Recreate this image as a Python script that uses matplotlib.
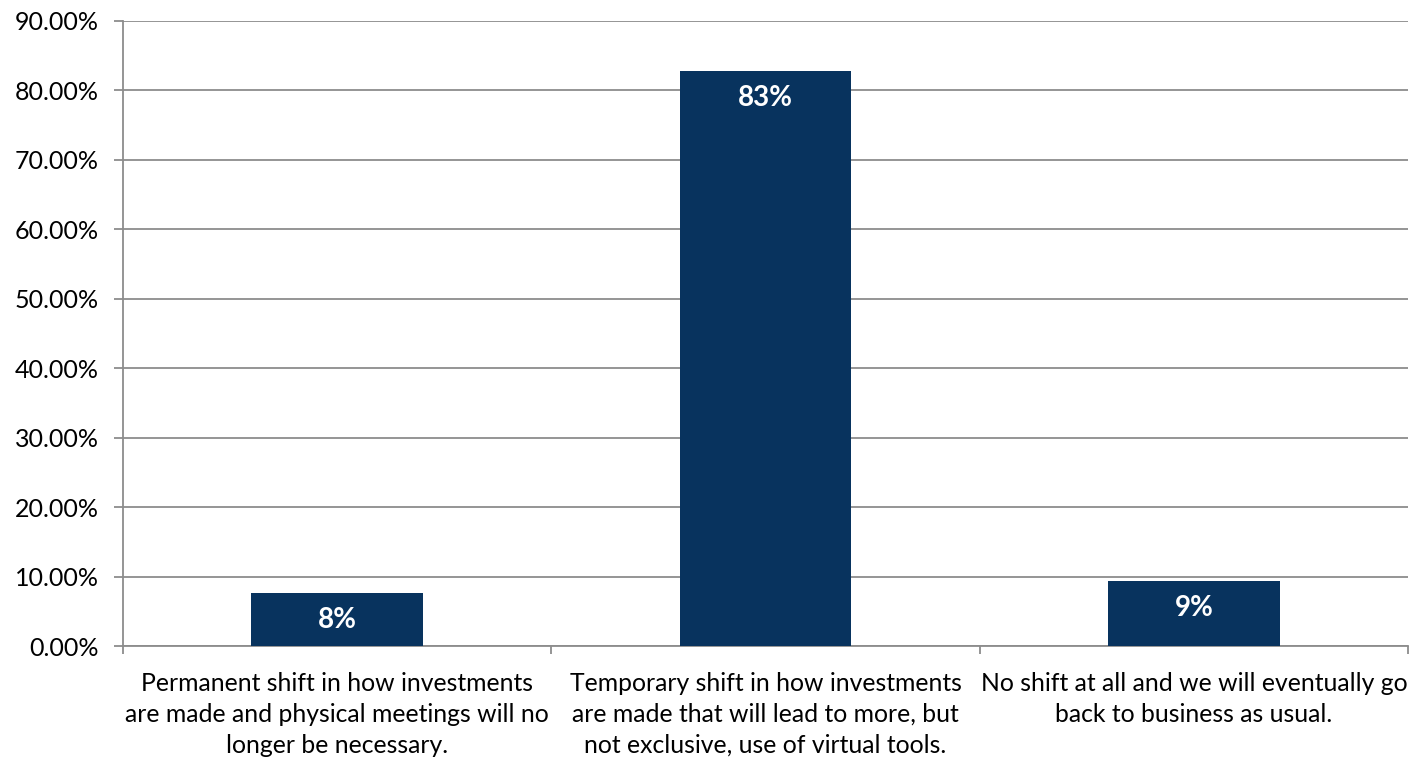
import numpy as np
import matplotlib.pyplot as plt
from matplotlib.ticker import FuncFormatter, MultipleLocator

# survey answers and shares
categories = [
    "Permanent shift in how investments\nare made and physical meetings will no\nlonger be necessary.",
    "Temporary shift in how investments\nare made that will lead to more, but\nnot exclusive, use of virtual tools.",
    "No shift at all and we will eventually go\nback to business as usual.",
]
shares = [0.076, 0.827, 0.094]

plt.rcParams['font.family'] = ['Lato', 'DejaVu Sans']

fig = plt.figure(figsize=(14.12, 7.62), dpi=100)
ax = fig.add_axes([123/1412, 1 - 646/762, 1285/1412, (646 - 20.7)/762])

x = np.arange(len(categories))
bars = ax.bar(x, shares, width=0.4, color='#08335e', zorder=3)

# value labels just inside the top of each bar
for b, v in zip(bars, shares):
    ax.annotate(f"{v:.0%}", (b.get_x() + b.get_width()/2, v),
                xytext=(0, -10), textcoords='offset points',
                ha='center', va='top', color='white',
                fontsize=20, fontweight='bold', zorder=4)

ax.set_xlim(-0.5, len(categories) - 0.5)
ax.set_ylim(0, 0.9)
ax.yaxis.set_major_locator(MultipleLocator(0.1))
ax.yaxis.set_major_formatter(FuncFormatter(lambda v, p: f"{v*100:.2f}%"))
ax.grid(axis='y', color='#8c8c8c', linewidth=1.3, zorder=0)

# category labels between boundary ticks
ax.set_xticks(x)
ax.set_xticklabels(categories, fontsize=17.8, linespacing=1.4)
ax.tick_params(axis='x', length=0, pad=19)
ax.set_xticks(np.arange(len(categories) + 1) - 0.5, minor=True)
ax.tick_params(axis='x', which='minor', length=6, color='#8c8c8c', width=1.3)
ax.tick_params(axis='y', labelsize=18, length=6.5, color='#8c8c8c', width=1.3, pad=11)

for s in ['top', 'right']:
    ax.spines[s].set_visible(False)
for s in ['left', 'bottom']:
    ax.spines[s].set_color('#8c8c8c')
    ax.spines[s].set_linewidth(1.3)

fig.savefig('out.png', dpi=100)
